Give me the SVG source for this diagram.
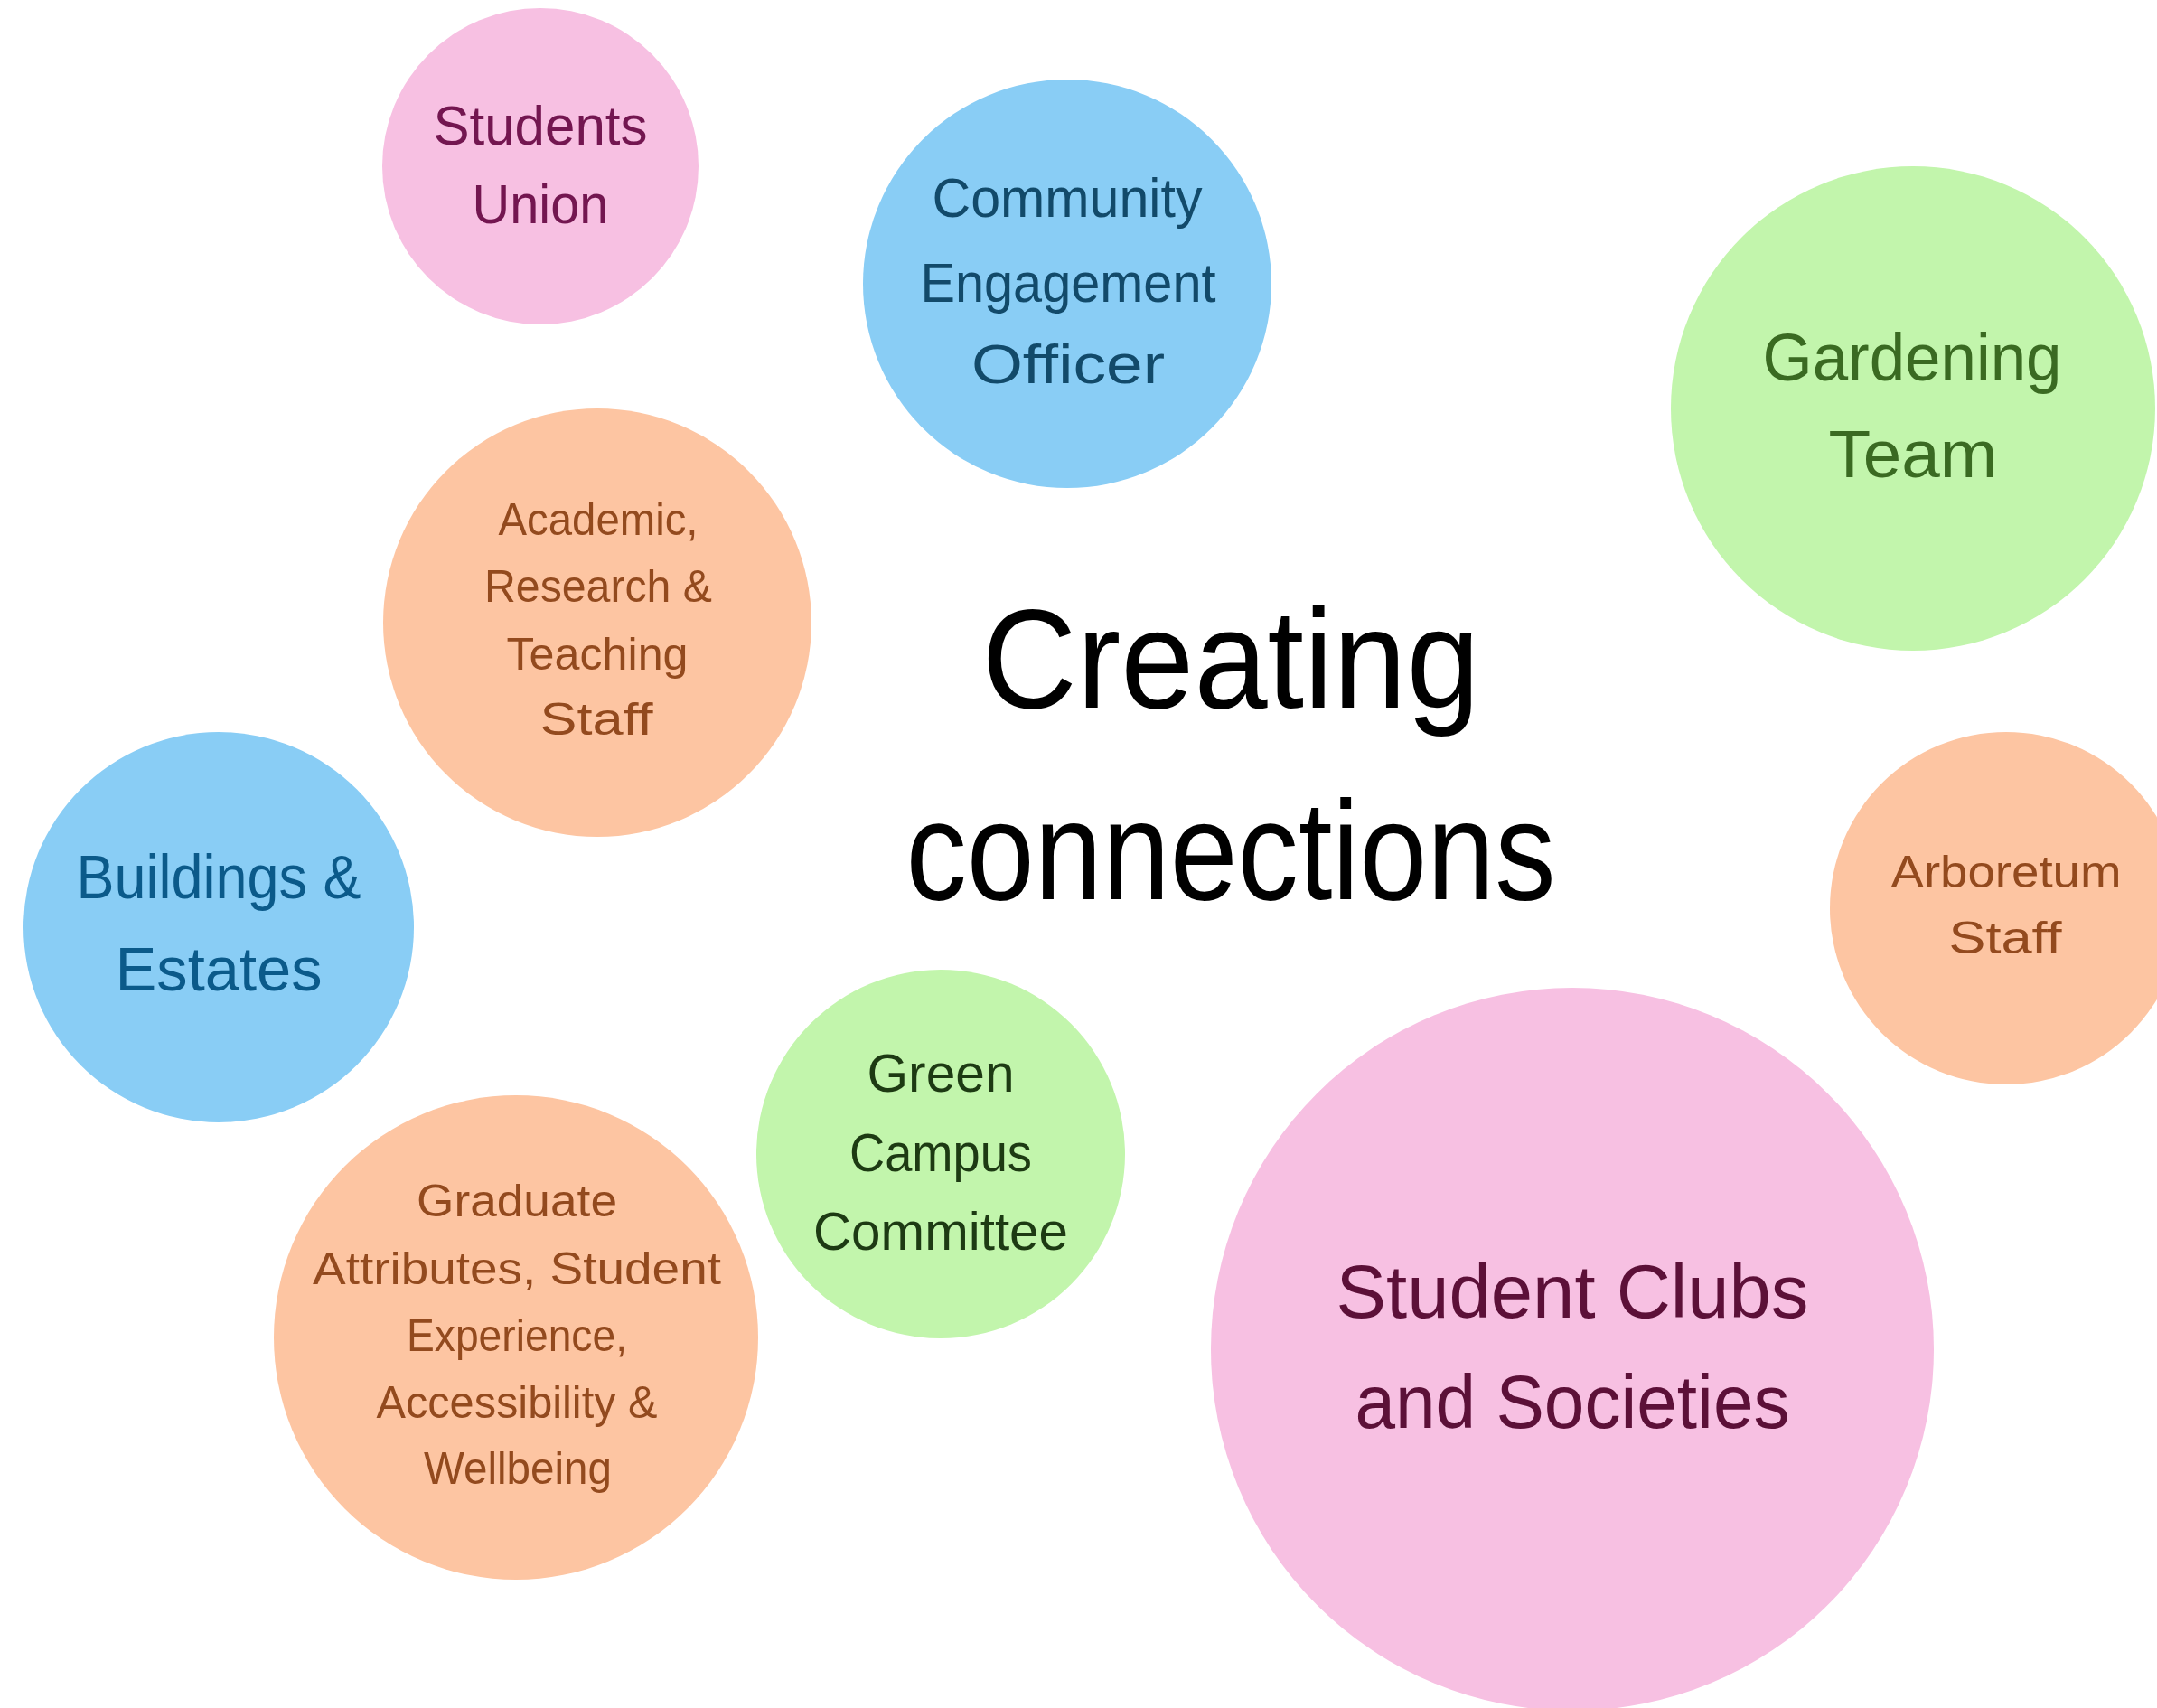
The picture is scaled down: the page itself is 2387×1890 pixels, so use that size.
<svg xmlns="http://www.w3.org/2000/svg" width="2387" height="1890" viewBox="0 0 2387 1890">
<style>
  text { font-family: "Liberation Sans", Arial, sans-serif; text-anchor: middle; }
  .pink { fill: #F7C0E2; }
  .blue { fill: #89CDF5; }
  .green { fill: #C2F5AC; }
  .peach { fill: #FDC5A2; }
  .t-su { fill: #731650; font-size: 62px; }
  .t-ceo { fill: #124A6A; font-size: 62px; }
  .t-gt { fill: #3A6A22; font-size: 74px; }
  .t-ac { fill: #934A1E; font-size: 50px; }
  .t-be { fill: #0B5A8A; font-size: 68px; }
  .t-ar { fill: #934A1E; font-size: 50px; }
  .t-gc { fill: #1D3A13; font-size: 60px; }
  .t-gr { fill: #934A1E; font-size: 50px; }
  .t-sc { fill: #5C1038; font-size: 84px; }
  .title { fill: #000000; font-size: 155px; }
</style>
<rect width="2387" height="1890" fill="#FFFFFF"/>
<g id="title">
  <text class="title" x="1362" y="783" textLength="551" lengthAdjust="spacingAndGlyphs">Creating</text>
  <text class="title" x="1362" y="995" textLength="719" lengthAdjust="spacingAndGlyphs">connections</text>
</g>
<g id="students-union">
  <circle class="pink" cx="598" cy="184" r="175"/>
  <text class="t-su" x="598" y="160" textLength="237" lengthAdjust="spacingAndGlyphs">Students</text>
  <text class="t-su" x="598" y="247" textLength="151" lengthAdjust="spacingAndGlyphs">Union</text>
</g>
<g id="community-engagement-officer">
  <circle class="blue" cx="1181" cy="314" r="226"/>
  <text class="t-ceo" x="1181" y="240" textLength="299" lengthAdjust="spacingAndGlyphs">Community</text>
  <text class="t-ceo" x="1182" y="334" textLength="327" lengthAdjust="spacingAndGlyphs">Engagement</text>
  <text class="t-ceo" x="1182" y="424" textLength="214" lengthAdjust="spacingAndGlyphs">Officer</text>
</g>
<g id="gardening-team">
  <circle class="green" cx="2117" cy="452" r="268"/>
  <text class="t-gt" x="2116" y="421" textLength="331" lengthAdjust="spacingAndGlyphs">Gardening</text>
  <text class="t-gt" x="2117" y="528" textLength="187" lengthAdjust="spacingAndGlyphs">Team</text>
</g>
<g id="academic-staff">
  <circle class="peach" cx="661" cy="689" r="237"/>
  <text class="t-ac" x="662" y="592" textLength="221" lengthAdjust="spacingAndGlyphs">Academic,</text>
  <text class="t-ac" x="662" y="666" textLength="252" lengthAdjust="spacingAndGlyphs">Research &amp;</text>
  <text class="t-ac" x="661" y="741" textLength="201" lengthAdjust="spacingAndGlyphs">Teaching</text>
  <text class="t-ac" x="660" y="813" textLength="125" lengthAdjust="spacingAndGlyphs">Staff</text>
</g>
<g id="buildings-estates">
  <circle class="blue" cx="242" cy="1026" r="216"/>
  <text class="t-be" x="242" y="994" textLength="315" lengthAdjust="spacingAndGlyphs">Buildings &amp;</text>
  <text class="t-be" x="242" y="1096" textLength="229" lengthAdjust="spacingAndGlyphs">Estates</text>
</g>
<g id="arboretum-staff">
  <circle class="peach" cx="2220" cy="1005" r="195"/>
  <text class="t-ar" x="2220" y="982" textLength="255" lengthAdjust="spacingAndGlyphs">Arboretum</text>
  <text class="t-ar" x="2219" y="1055" textLength="125" lengthAdjust="spacingAndGlyphs">Staff</text>
</g>
<g id="green-campus-committee">
  <circle class="green" cx="1041" cy="1277" r="204"/>
  <text class="t-gc" x="1041" y="1208" textLength="163" lengthAdjust="spacingAndGlyphs">Green</text>
  <text class="t-gc" x="1041" y="1296" textLength="202" lengthAdjust="spacingAndGlyphs">Campus</text>
  <text class="t-gc" x="1041" y="1383" textLength="282" lengthAdjust="spacingAndGlyphs">Committee</text>
</g>
<g id="graduate-attributes">
  <circle class="peach" cx="571" cy="1480" r="268"/>
  <text class="t-gr" x="572" y="1346" textLength="222" lengthAdjust="spacingAndGlyphs">Graduate</text>
  <text class="t-gr" x="572" y="1421" textLength="452" lengthAdjust="spacingAndGlyphs">Attributes, Student</text>
  <text class="t-gr" x="572" y="1495" textLength="244" lengthAdjust="spacingAndGlyphs">Experience,</text>
  <text class="t-gr" x="572" y="1569" textLength="311" lengthAdjust="spacingAndGlyphs">Accessibility &amp;</text>
  <text class="t-gr" x="573" y="1642" textLength="208" lengthAdjust="spacingAndGlyphs">Wellbeing</text>
</g>
<g id="student-clubs-societies">
  <circle class="pink" cx="1740" cy="1493" r="400"/>
  <text class="t-sc" x="1740" y="1458" textLength="523" lengthAdjust="spacingAndGlyphs">Student Clubs</text>
  <text class="t-sc" x="1740" y="1580" textLength="481" lengthAdjust="spacingAndGlyphs">and Societies</text>
</g>
<g id="connectors"></g>
</svg>
